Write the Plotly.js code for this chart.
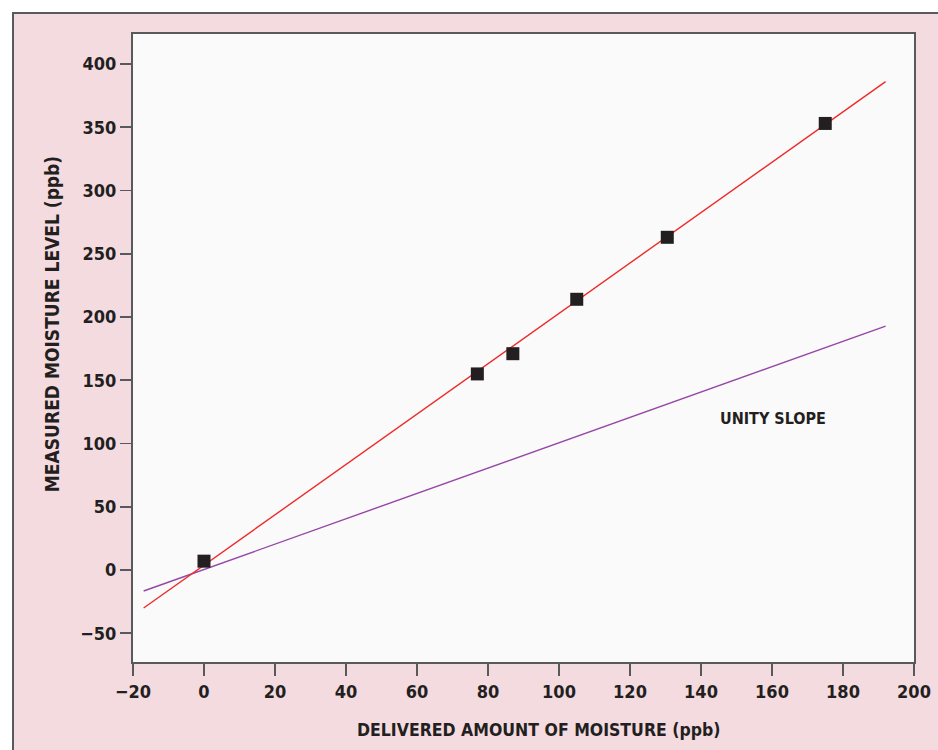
<!DOCTYPE html>
<html>
<head>
<meta charset="utf-8">
<script src="https://cdn.plot.ly/plotly-3.0.1.min.js"></script>
<style>
html,body{margin:0;padding:0;background:#ffffff;}
#frame{position:absolute;left:12px;top:12px;width:926px;height:738px;background:#f4dbe0;border-top:2px solid #5a5a5c;border-left:2px solid #5a5a5c;box-sizing:border-box;}
#chart{position:absolute;left:0;top:0;width:938px;height:750px;}
</style>
</head>
<body>
<div id="frame"></div>
<div id="chart"></div>
<script>
// Measured data points
var deliveredPpb = [0, 77, 87, 105, 130.5, 175];
var measuredPpb = [7, 155, 171, 214, 263, 353];
// Fitted line (red) endpoints
var fitX = [-17, 192];
var fitY = [-30, 386];
// Unity slope line (purple) endpoints
var unityX = [-17, 192];
var unityY = [-16.6, 192.8];
// Tick values
var xTicks = [-20, 0, 20, 40, 60, 80, 100, 120, 140, 160, 180, 200];
var xTickText = ["\u221220", "0", "20", "40", "60", "80", "100", "120", "140", "160", "180", "200"];
var yTicks = [-50, 0, 50, 100, 150, 200, 250, 300, 350, 400];
var yTickText = ["\u221250", "0", "50", "100", "150", "200", "250", "300", "350", "400"];
var xTitle = 'DELIVERED AMOUNT OF MOISTURE (ppb)';
var yTitle = 'MEASURED MOISTURE LEVEL (ppb)';
var unityLabel = 'UNITY SLOPE';

var FONT = '"DejaVu Sans Condensed", "Liberation Sans Narrow", sans-serif';
var INK = '#231f20';

var traces = [
  {x: unityX, y: unityY, mode: 'lines', line: {color: '#9546a6', width: 1.4}, hoverinfo: 'skip'},
  {x: fitX, y: fitY, mode: 'lines', line: {color: '#ee2b2b', width: 1.4}, hoverinfo: 'skip'},
  {x: deliveredPpb, y: measuredPpb, mode: 'markers', marker: {symbol: 'square', size: 13, color: INK}}
];

var layout = {
  width: 938, height: 750,
  paper_bgcolor: 'rgba(0,0,0,0)',
  plot_bgcolor: '#fafafa',
  showlegend: false,
  margin: {l: 133, r: 24, t: 34, b: 88},
  font: {family: FONT, color: INK, size: 18},
  xaxis: {
    range: [-20, 200], tickvals: xTicks, ticktext: xTickText,
    ticks: 'outside', ticklen: 12, tickwidth: 1.6, tickcolor: '#58595b',
    showline: true, linecolor: '#58595b', linewidth: 2, mirror: true,
    showgrid: false, zeroline: false,
    tickfont: {family: FONT, size: 18, color: INK, weight: 'bold'}
  },
  yaxis: {
    range: [-72.7, 423.7], tickvals: yTicks, ticktext: yTickText,
    ticks: 'outside', ticklen: 11, tickwidth: 1.6, tickcolor: '#58595b',
    showline: true, linecolor: '#58595b', linewidth: 2, mirror: true,
    showgrid: false, zeroline: false,
    tickfont: {family: FONT, size: 18, color: INK, weight: 'bold'}
  },
  annotations: [
    {x: 160.3, y: 120, xref: 'x', yref: 'y', text: '<b>' + unityLabel + '</b>', showarrow: false,
     font: {family: FONT, size: 16, color: INK}},
    {x: 0.5186, y: -0.108, xref: 'paper', yref: 'paper', xanchor: 'center', yanchor: 'middle',
     text: '<b>' + xTitle + '</b>', showarrow: false, font: {family: FONT, size: 17.5, color: INK}},
    {x: -0.1037, y: 0.538, xref: 'paper', yref: 'paper', xanchor: 'center', yanchor: 'middle', textangle: -90,
     text: '<b>' + yTitle + '</b>', showarrow: false, font: {family: FONT, size: 19, color: INK}}
  ]
};

Plotly.newPlot('chart', traces, layout, {displayModeBar: false, staticPlot: true});
</script>
</body>
</html>
